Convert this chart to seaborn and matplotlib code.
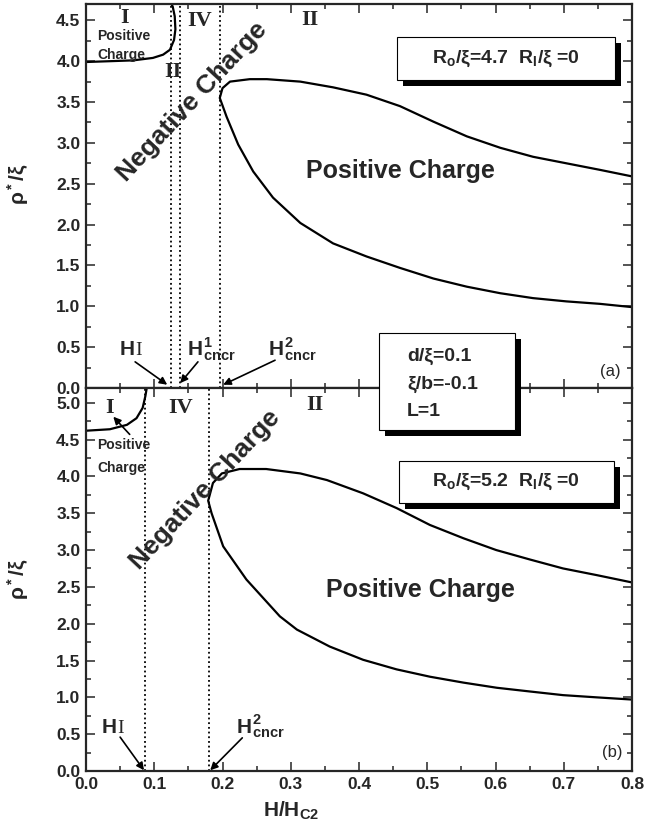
import numpy as np
import pandas as pd
import matplotlib
matplotlib.use("Agg")
import matplotlib.pyplot as plt
from matplotlib.patches import Rectangle
from matplotlib.ticker import MultipleLocator
import seaborn as sns

sns.set_style("ticks")
plt.rcParams["font.family"] = ["Liberation Sans", "DejaVu Sans"]
plt.rcParams["font.weight"] = "bold"
plt.rcParams["mathtext.fontset"] = "custom"
plt.rcParams["mathtext.rm"] = "Liberation Sans:bold"
plt.rcParams["mathtext.bf"] = "Liberation Sans:bold"
plt.rcParams["mathtext.it"] = "Liberation Sans:bold"
plt.rcParams["mathtext.default"] = "bf"

# ---------------- panel (a): Ro/xi = 4.7 ----------------
a_field_lines = [0.124, 0.137, 0.197]          # H_I, H^1_cncr, H^2_cncr

a_region1_x = [0.0, 0.035, 0.069, 0.098, 0.113, 0.123, 0.129, 0.131, 0.130, 0.127, 0.125]
a_region1_y = [3.99, 4.00, 4.01, 4.04, 4.08, 4.14, 4.26, 4.39, 4.55, 4.67, 4.70]

a_lower_x = [0.800, 0.753, 0.704, 0.655, 0.607, 0.558, 0.509, 0.460, 0.411, 0.362,
             0.314, 0.274, 0.245, 0.223, 0.206, 0.196]
a_lower_y = [0.99, 1.03, 1.06, 1.10, 1.16, 1.24, 1.34, 1.47, 1.61, 1.77,
             2.02, 2.33, 2.65, 2.98, 3.32, 3.55]
a_upper_x = [0.196, 0.200, 0.211, 0.240, 0.265, 0.314, 0.362, 0.411, 0.460, 0.509,
             0.558, 0.607, 0.655, 0.704, 0.753, 0.800]
a_upper_y = [3.55, 3.67, 3.75, 3.78, 3.78, 3.75, 3.68, 3.59, 3.45, 3.26,
             3.08, 2.94, 2.83, 2.75, 2.67, 2.59]

# ---------------- panel (b): Ro/xi = 5.2 ----------------
b_field_lines = [0.087, 0.180]                 # H_I, H^2_cncr

b_region1_x = [0.0, 0.035, 0.060, 0.074, 0.083, 0.087, 0.089]
b_region1_y = [4.62, 4.64, 4.70, 4.79, 4.93, 5.09, 5.20]

b_lower_x = [0.800, 0.748, 0.699, 0.650, 0.602, 0.553, 0.504, 0.455, 0.406, 0.357,
             0.309, 0.284, 0.235, 0.201, 0.184, 0.179]
b_lower_y = [0.97, 1.00, 1.03, 1.08, 1.13, 1.20, 1.28, 1.38, 1.51, 1.69,
             1.92, 2.10, 2.60, 3.05, 3.50, 3.67]
b_upper_x = [0.179, 0.186, 0.199, 0.225, 0.264, 0.314, 0.353, 0.406, 0.455, 0.504,
             0.553, 0.601, 0.651, 0.699, 0.748, 0.800]
b_upper_y = [3.67, 3.91, 4.04, 4.10, 4.10, 4.04, 3.95, 3.77, 3.57, 3.34,
             3.16, 3.00, 2.87, 2.75, 2.66, 2.56]

x_ticks = [0.0, 0.1, 0.2, 0.3, 0.4, 0.5, 0.6, 0.7, 0.8]
a_y_ticks = [0.0, 0.5, 1.0, 1.5, 2.0, 2.5, 3.0, 3.5, 4.0, 4.5]
b_y_ticks = [0.0, 0.5, 1.0, 1.5, 2.0, 2.5, 3.0, 3.5, 4.0, 4.5, 5.0]

W, H = 645, 835
fig = plt.figure(figsize=(W / 100, H / 100), dpi=100)


def frac(px, py):
    return px / W, 1 - py / H


ax_a = fig.add_axes([86 / W, 1 - 388 / H, 546 / W, 384 / H])
ax_b = fig.add_axes([86 / W, 1 - 771 / H, 546 / W, 383 / H])


def draw_path(ax, xs, ys):
    df = pd.DataFrame({"x": xs, "y": ys})
    sns.lineplot(data=df, x="x", y="y", sort=False, estimator=None,
                 color="black", lw=1.6, ax=ax, legend=False)


def style_axes(ax, ymax, yticks, show_x):
    ax.set_xlim(0, 0.8)
    ax.set_ylim(0, ymax)
    ax.set_xticks(x_ticks)
    ax.set_yticks(yticks)
    ax.xaxis.set_minor_locator(MultipleLocator(0.05))
    ax.yaxis.set_minor_locator(MultipleLocator(0.25))
    ax.tick_params(which="both", direction="in", top=True, right=True,
                   width=1.1, labelsize=12.5, labelbottom=show_x)
    ax.tick_params(which="major", length=6.5, pad=4)
    ax.tick_params(which="minor", length=3.6)
    for lab in ax.get_xticklabels() + ax.get_yticklabels():
        lab.set_fontweight("bold")
    for sp in ax.spines.values():
        sp.set_linewidth(1.6)
        sp.set_visible(True)
    ax.set_xlabel("")
    ax.set_ylabel("ρ$^*$/ξ", fontsize=15, fontweight="bold")


arrow = dict(arrowstyle="-|>", color="black", lw=1.2, mutation_scale=11,
             shrinkA=0, shrinkB=0)
roman = dict(family="Liberation Serif", fontsize=16, fontweight="bold",
             ha="center", va="center")


def h_label(ax, x, y, script):
    """Bold 'H' followed by a serif subscript-style label or super/subscripts."""
    ax.text(x, y, "H", fontsize=15, ha="left", va="baseline")
    if script == "I":
        ax.annotate("I", xy=(x, y), xytext=(11.5, 0), textcoords="offset points",
                    family="Liberation Serif", fontsize=14, fontweight="normal",
                    ha="left", va="baseline")
    else:
        ax.annotate(script, xy=(x, y), xytext=(11.0, 0), textcoords="offset points",
                    fontsize=15, ha="left", va="baseline")


# ---------- panel (a) ----------
draw_path(ax_a, a_region1_x, a_region1_y)
draw_path(ax_a, a_lower_x + a_upper_x[1:], a_lower_y + a_upper_y[1:])
for xv in a_field_lines:
    ax_a.axvline(xv, color="black", ls=(0, (1, 1.6)), lw=1.3)
style_axes(ax_a, 4.7, a_y_ticks, False)
ax_a.yaxis.set_label_coords(-0.10, 0.53)

ax_a.text(0.057, 4.53, "I", **roman)
ax_a.text(0.167, 4.49, "IV", **roman)
ax_a.text(0.328, 4.51, "II", **roman)
ax_a.text(0.128, 3.87, "II", **roman)
ax_a.text(0.016, 4.31, "Positive", fontsize=10, ha="left", va="center")
ax_a.text(0.016, 4.08, "Charge", fontsize=10, ha="left", va="center")
ax_a.text(0.155, 3.50, "Negative Charge", fontsize=19, rotation=47,
          ha="center", va="center", rotation_mode="anchor")
ax_a.text(0.46, 2.66, "Positive Charge", fontsize=18, ha="center", va="center")
ax_a.text(0.768, 0.20, "(a)", fontsize=12, fontweight="normal",
          ha="center", va="center")

h_label(ax_a, 0.049, 0.40, "I")
ax_a.annotate("", xy=(0.119, 0.04), xytext=(0.072, 0.32), arrowprops=arrow)
h_label(ax_a, 0.149, 0.40, "$^1_{cncr}$")
ax_a.annotate("", xy=(0.138, 0.06), xytext=(0.164, 0.32), arrowprops=arrow)
h_label(ax_a, 0.267, 0.40, "$^2_{cncr}$")
ax_a.annotate("", xy=(0.201, 0.04), xytext=(0.277, 0.34), arrowprops=arrow)

# ---------- panel (b) ----------
draw_path(ax_b, b_region1_x, b_region1_y)
draw_path(ax_b, b_lower_x + b_upper_x[1:], b_lower_y + b_upper_y[1:])
for xv in b_field_lines:
    ax_b.axvline(xv, color="black", ls=(0, (1, 1.6)), lw=1.3)
style_axes(ax_b, 5.2, b_y_ticks, True)
ax_b.yaxis.set_label_coords(-0.10, 0.50)
ax_b.set_xlabel("H/H$_{C2}$", fontsize=15, fontweight="bold")
ax_b.xaxis.set_label_coords(0.375, -0.075)

ax_b.text(0.035, 4.93, "I", **roman)
ax_b.text(0.138, 4.93, "IV", **roman)
ax_b.text(0.336, 4.97, "II", **roman)
ax_b.text(0.016, 4.43, "Positive", fontsize=10, ha="left", va="center")
ax_b.text(0.016, 4.12, "Charge", fontsize=10, ha="left", va="center")
ax_b.annotate("", xy=(0.040, 4.81), xytext=(0.064, 4.57), arrowprops=arrow)
ax_b.text(0.174, 3.82, "Negative Charge", fontsize=19, rotation=47,
          ha="center", va="center", rotation_mode="anchor")
ax_b.text(0.49, 2.46, "Positive Charge", fontsize=18, ha="center", va="center")
ax_b.text(0.771, 0.245, "(b)", fontsize=12, fontweight="normal",
          ha="center", va="center")

h_label(ax_b, 0.023, 0.52, "I")
ax_b.annotate("", xy=(0.085, 0.01), xytext=(0.050, 0.46), arrowprops=arrow)
h_label(ax_b, 0.221, 0.52, "$^2_{cncr}$")
ax_b.annotate("", xy=(0.182, 0.01), xytext=(0.229, 0.45), arrowprops=arrow)


# ---------- parameter boxes with drop shadows ----------
def shadow_box(px0, py0, px1, py1, off=6):
    x0, y1 = frac(px0, py0)
    x1, y0 = frac(px1, py1)
    fig.add_artist(Rectangle((x0 + off / W, y0 - off / H), x1 - x0, y1 - y0,
                             transform=fig.transFigure, facecolor="black",
                             edgecolor="black", lw=0, zorder=5))
    fig.add_artist(Rectangle((x0, y0), x1 - x0, y1 - y0,
                             transform=fig.transFigure, facecolor="white",
                             edgecolor="black", lw=0.8, zorder=6))


shadow_box(397, 37, 615, 80)
fig.text(*frac(506, 59), "R$_o$/ξ=4.7  R$_I$/ξ =0", fontsize=14,
         ha="center", va="center", zorder=7)

shadow_box(379, 333, 515, 430)
for txt, py in [("d/ξ=0.1", 356), ("ξ/b=-0.1", 384), ("L=1", 412)]:
    fig.text(*frac(407, py), txt, fontsize=14, ha="left", va="center", zorder=7)

shadow_box(399, 461, 614, 503)
fig.text(*frac(506, 482), "R$_o$/ξ=5.2  R$_I$/ξ =0", fontsize=14,
         ha="center", va="center", zorder=7)

fig.savefig("out.png", dpi=100)
